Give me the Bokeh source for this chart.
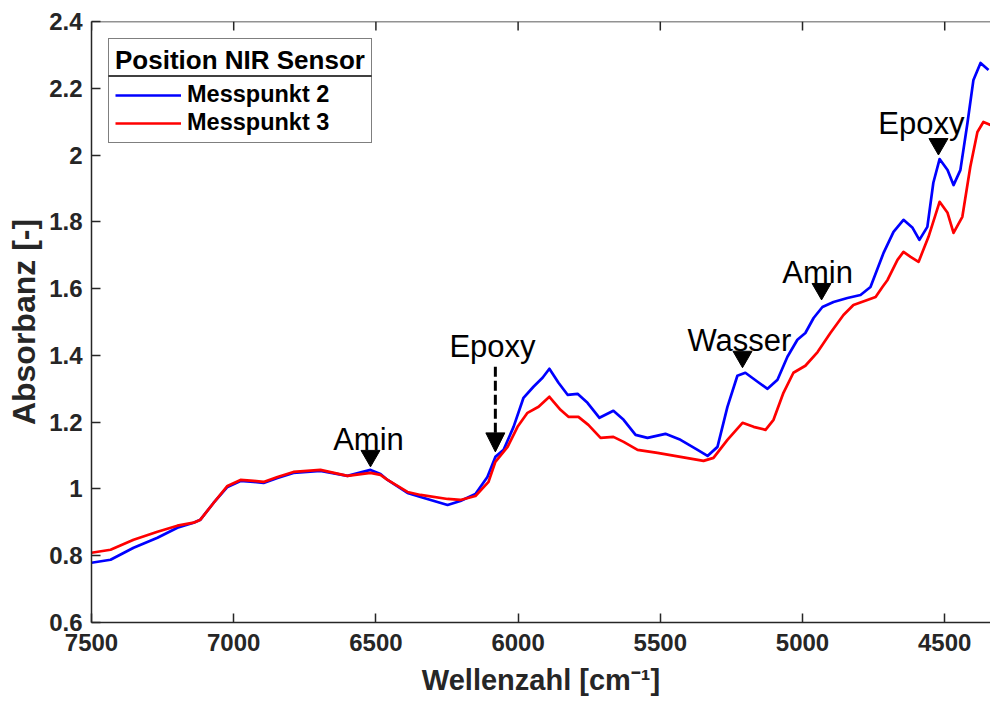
from bokeh.plotting import figure
from bokeh.models import (Range1d, FixedTicker, CustomJSTickFormatter, Span,
                          Legend, LegendItem, Arrow, NormalHead)
from bokeh.core.properties import value
from bokeh.embed import file_html
from bokeh.resources import INLINE

# ---------------- data ----------------
wn_mp2 = [7500, 7433, 7352, 7268, 7198, 7141, 7117, 7071, 7022, 6976, 6930, 6895,
          6846, 6790, 6695, 6600, 6519, 6484, 6459, 6389, 6343, 6248, 6203, 6150,
          6108, 6080, 6051, 6016, 5981, 5946, 5914, 5890, 5858, 5826, 5791, 5756,
          5714, 5665, 5629, 5587, 5545, 5482, 5429, 5369, 5334, 5299, 5264, 5229,
          5201, 5158, 5123, 5088, 5053, 5018, 4990, 4961, 4930, 4891, 4842, 4796,
          4761, 4715, 4680, 4645, 4613, 4589, 4561, 4540, 4518, 4490, 4469, 4445,
          4420, 4399, 4374, 4346]
abs_mp2 = [0.779, 0.788, 0.824, 0.854, 0.884, 0.899, 0.908, 0.958, 1.006, 1.024, 1.021, 1.018,
           1.033, 1.048, 1.054, 1.039, 1.057, 1.045, 1.027, 0.988, 0.976, 0.952, 0.964, 0.985,
           1.036, 1.096, 1.117, 1.186, 1.273, 1.306, 1.333, 1.360, 1.318, 1.282, 1.285, 1.258,
           1.213, 1.234, 1.207, 1.162, 1.153, 1.165, 1.147, 1.117, 1.099, 1.126, 1.246, 1.339,
           1.348, 1.321, 1.300, 1.327, 1.396, 1.447, 1.467, 1.512, 1.545, 1.560, 1.572, 1.581,
           1.605, 1.707, 1.770, 1.806, 1.782, 1.746, 1.785, 1.917, 1.988, 1.955, 1.910, 1.955,
           2.096, 2.225, 2.276, 2.255]

wn_mp3 = [7500, 7433, 7352, 7268, 7198, 7141, 7117, 7071, 7022, 6976, 6930, 6895,
          6846, 6790, 6695, 6600, 6519, 6484, 6459, 6389, 6343, 6248, 6203, 6150,
          6104, 6080, 6037, 6002, 5967, 5928, 5890, 5851, 5823, 5788, 5753, 5710,
          5665, 5629, 5580, 5510, 5429, 5348, 5313, 5264, 5211, 5172, 5130, 5102,
          5067, 5032, 4990, 4947, 4902, 4856, 4821, 4772, 4743, 4719, 4701, 4666,
          4645, 4620, 4592, 4557, 4518, 4490, 4469, 4438, 4410, 4385, 4364, 4339]
abs_mp3 = [0.809, 0.818, 0.848, 0.872, 0.890, 0.899, 0.908, 0.958, 1.009, 1.027, 1.024, 1.021,
           1.036, 1.051, 1.057, 1.039, 1.048, 1.042, 1.027, 0.991, 0.982, 0.970, 0.967, 0.979,
           1.021, 1.081, 1.126, 1.186, 1.228, 1.246, 1.276, 1.237, 1.216, 1.216, 1.192, 1.153,
           1.156, 1.141, 1.117, 1.108, 1.096, 1.084, 1.093, 1.147, 1.198, 1.186, 1.177, 1.207,
           1.288, 1.348, 1.369, 1.410, 1.467, 1.521, 1.551, 1.566, 1.575, 1.605, 1.626, 1.686,
           1.710, 1.695, 1.680, 1.755, 1.860, 1.827, 1.767, 1.815, 1.965, 2.069, 2.099, 2.090]

series_names = ["Messpunkt 2", "Messpunkt 3"]
legend_title = "Position NIR Sensor"

# band markers (filled triangles) and labels
marker_wn = [6519, 5211, 4933, 4522]
marker_abs = [1.099, 1.396, 1.599, 2.033]
label_text = ["Amin", "Epoxy", "Wasser", "Amin", "Epoxy"]
label_wn = [6526, 6090, 5222, 4947, 4582]
label_abs = [1.147, 1.426, 1.446, 1.647, 2.096]
# dashed arrow (Epoxy)
arrow_wn = 6080
arrow_abs_start = 1.366
arrow_abs_end = 1.111

x_ticks = [7500, 7000, 6500, 6000, 5500, 5000, 4500]
y_ticks = [0.6, 0.8, 1.0, 1.2, 1.4, 1.6, 1.8, 2.0, 2.2, 2.4]

X_LO, X_HI = 7500, 4339
Y_LO, Y_HI = 0.6, 2.4

# ---------------- figure ----------------
AX = "#262626"
FONT = "Liberation Sans"
FRAME_W, FRAME_H = 899.0, 601.0
PX_X = (X_LO - X_HI) / FRAME_W      # data units per px (x)
PX_Y = (Y_HI - Y_LO) / FRAME_H      # data units per px (y)

p = figure(width=990, height=703, output_backend="svg", toolbar_location=None,
           x_range=Range1d(X_LO, X_HI), y_range=Range1d(Y_LO, Y_HI),
           min_border_left=91, min_border_right=0, min_border_top=21, min_border_bottom=81,
           x_axis_label="Wellenzahl [cm\u207b\u00b9]", y_axis_label="Absorbanz [-]")
p.outline_line_color = None
p.grid.visible = False
p.background_fill_color = "white"
p.border_fill_color = "white"

fmt = CustomJSTickFormatter(code="var s = tick.toFixed(1); return s.endsWith('.0') ? s.slice(0, -2) : s;")

for ax in (p.xaxis[0], p.yaxis[0]):
    ax.axis_line_color = AX
    ax.axis_line_width = 1.5
    ax.major_tick_line_color = AX
    ax.major_tick_line_width = 1.5
    ax.major_tick_in = 9
    ax.major_tick_out = 0
    ax.minor_tick_line_color = None
    ax.major_label_text_font = FONT
    ax.major_label_text_font_style = "bold"
    ax.major_label_text_font_size = "24px"
    ax.major_label_text_color = AX
    ax.axis_label_text_font = FONT
    ax.axis_label_text_font_style = "bold"
    ax.axis_label_text_color = AX

p.xaxis[0].ticker = FixedTicker(ticks=x_ticks)
p.yaxis[0].ticker = FixedTicker(ticks=y_ticks)
p.yaxis[0].formatter = fmt
p.xaxis[0].axis_label_text_font_size = "29px"
p.yaxis[0].axis_label_text_font_size = "32px"
p.xaxis[0].major_label_standoff = 11
p.xaxis[0].axis_label_standoff = 10
p.yaxis[0].major_label_standoff = 9
p.yaxis[0].axis_label_standoff = 4

# top box edge with inward ticks (MATLAB "box on")
p.add_layout(Span(location=Y_HI, dimension="width", line_color=AX, line_width=1.5))
p.segment(x0=x_ticks, y0=[Y_HI] * len(x_ticks), x1=x_ticks,
          y1=[Y_HI - 9 * PX_Y] * len(x_ticks), line_color=AX, line_width=1.5)

# separator line under the legend title (legend box 263 px wide, title row ~37 px high);
# the legend background is transparent so this shows through (no data lies there)
LEG_MARGIN, LEG_PAD = 17, 6
sep_y = Y_HI - (LEG_MARGIN + 37.5) * PX_Y
p.segment(x0=[X_LO - LEG_MARGIN * PX_X], y0=[sep_y],
          x1=[X_LO - (LEG_MARGIN + 263) * PX_X], y1=[sep_y],
          line_color="black", line_width=1.5)

r1 = p.line(wn_mp2, abs_mp2, line_color="#0000ff", line_width=2.7, line_join="round")
r2 = p.line(wn_mp3, abs_mp3, line_color="#ff0000", line_width=2.7, line_join="round")

p.scatter(marker_wn, marker_abs, marker="inverted_triangle", size=19,
          fill_color="black", line_color="black")
p.text(x=label_wn, y=label_abs, text=label_text, text_align="center",
       text_baseline="alphabetic", text_font=value(FONT), text_font_size="31px",
       text_color="black")
p.add_layout(Arrow(end=NormalHead(size=19, fill_color="black", line_color="black"),
                   x_start=arrow_wn, y_start=arrow_abs_start,
                   x_end=arrow_wn, y_end=arrow_abs_end,
                   line_color="black", line_width=3, line_dash="10 4"))

legend = Legend(items=[LegendItem(label=series_names[0], renderers=[r1]),
                       LegendItem(label=series_names[1], renderers=[r2])],
                location="top_left", title=legend_title)
legend.title_text_font = FONT
legend.title_text_font_style = "bold"
legend.title_text_font_size = "26px"
legend.title_text_color = "black"
legend.title_standoff = 5
legend.label_text_font = FONT
legend.label_text_font_style = "bold"
legend.label_text_font_size = "23.5px"
legend.label_text_color = "black"
legend.glyph_width = 66
legend.glyph_height = 20
legend.label_height = 20
legend.label_standoff = 6
legend.spacing = 1
legend.padding = LEG_PAD
legend.margin = LEG_MARGIN
legend.border_line_color = "black"
legend.border_line_width = 1.5
legend.background_fill_alpha = 0.0
p.add_layout(legend)

open("out.html", "w").write(file_html(p, INLINE))
